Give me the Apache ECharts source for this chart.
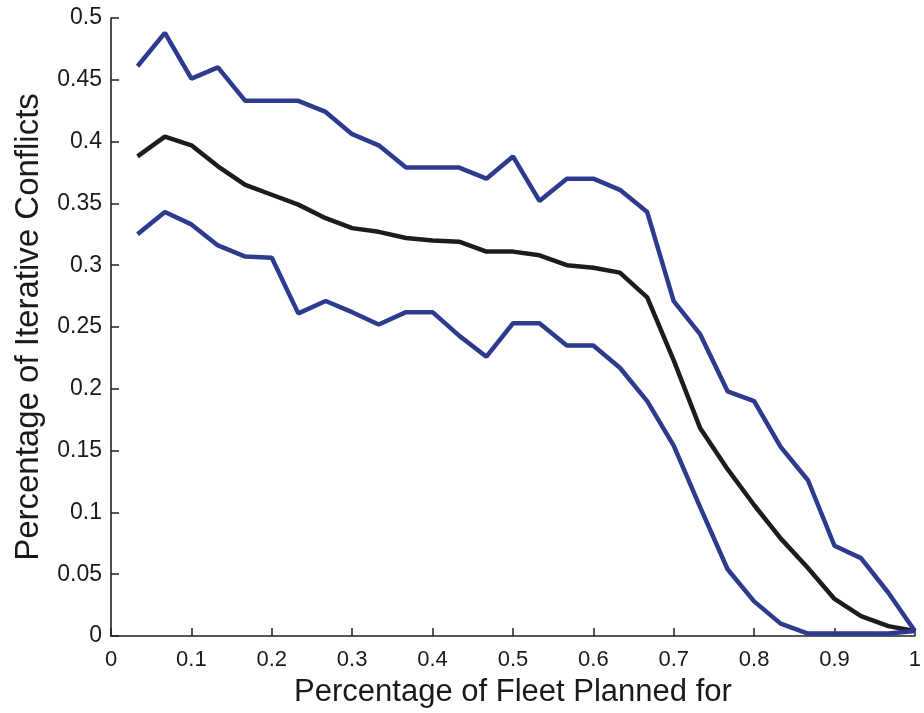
<!DOCTYPE html>
<html>
<head>
<meta charset="utf-8">
<script src="https://cdn.jsdelivr.net/npm/echarts@6/dist/echarts.min.js"></script>
<style>
html,body{margin:0;padding:0;background:#fff;}
#chart{width:924px;height:713px;}
</style>
</head>
<body>
<div id="chart"></div>
<script>
// x positions (fraction of fleet planned for)
var xs = [0.033,0.067,0.1,0.133,0.167,0.2,0.233,0.267,0.3,0.333,
          0.367,0.4,0.433,0.467,0.5,0.533,0.567,0.6,0.633,0.667,
          0.7,0.733,0.767,0.8,0.833,0.867,0.9,0.933,0.967,1.0];
// upper bound (blue)
var upper = [0.461,0.488,0.451,0.460,0.433,0.433,0.433,0.424,0.406,0.397,
             0.379,0.379,0.379,0.370,0.388,0.352,0.370,0.370,0.361,0.343,
             0.271,0.244,0.198,0.190,0.153,0.126,0.073,0.063,0.035,0.004];
// mean (black)
var mean = [0.388,0.404,0.397,0.380,0.365,0.357,0.349,0.338,0.330,0.327,
            0.322,0.320,0.319,0.311,0.311,0.308,0.300,0.298,0.294,0.274,
            0.223,0.168,0.135,0.106,0.079,0.055,0.030,0.016,0.008,0.004];
// lower bound (blue)
var lower = [0.325,0.343,0.333,0.316,0.307,0.306,0.261,0.271,0.262,0.252,
             0.262,0.262,0.243,0.226,0.253,0.253,0.235,0.235,0.217,0.190,
             0.154,0.104,0.054,0.028,0.010,0.002,0.002,0.002,0.002,0.004];

var xTitle = 'Percentage of Fleet Planned for';
var yTitle = 'Percentage of Iterative Conflicts';

function pairs(ys){ return xs.map(function(x,i){ return [x, ys[i]]; }); }

var FONT = "'Liberation Sans', Arial, Helvetica, sans-serif";
var axisColor = '#222';

var chart = echarts.init(document.getElementById('chart'), null, {renderer:'canvas'});
chart.setOption({
  animation:false,
  backgroundColor:'#fff',
  grid:{left:111, right:8, top:18, bottom:66, containLabel:false},
  xAxis:{
    type:'value', min:0, max:1, interval:0.1,
    name:xTitle, nameLocation:'middle', nameGap:41,
    nameTextStyle:{fontFamily:FONT, fontSize:31, color:'#1a1a1a'},
    axisLine:{show:true, onZero:false, lineStyle:{color:axisColor, width:1.6}},
    axisTick:{show:true, inside:true, length:8, lineStyle:{color:axisColor, width:1.5}},
    axisLabel:{fontFamily:FONT, fontSize:22, color:'#1a1a1a', margin:13},
    splitLine:{show:false}
  },
  yAxis:{
    type:'value', min:0, max:0.5, interval:0.05,
    name:yTitle, nameLocation:'middle', nameGap:66, nameRotate:90,
    nameTextStyle:{fontFamily:FONT, fontSize:33, color:'#1a1a1a'},
    axisLine:{show:true, onZero:false, lineStyle:{color:axisColor, width:1.6}},
    axisTick:{show:true, inside:true, length:8, lineStyle:{color:axisColor, width:1.5}},
    axisLabel:{fontFamily:FONT, fontSize:23, color:'#1a1a1a', margin:9},
    splitLine:{show:false}
  },
  series:[
    {type:'line', data:pairs(mean), symbol:'none', clip:false,
     lineStyle:{color:'#1c1c1c', width:4.5}, z:2},
    {type:'line', data:pairs(upper), symbol:'none', clip:false,
     lineStyle:{color:'#2d3a8e', width:4.5}, z:3},
    {type:'line', data:pairs(lower), symbol:'none', clip:false,
     lineStyle:{color:'#2d3a8e', width:4.5}, z:3}
  ]
});
</script>
</body>
</html>
